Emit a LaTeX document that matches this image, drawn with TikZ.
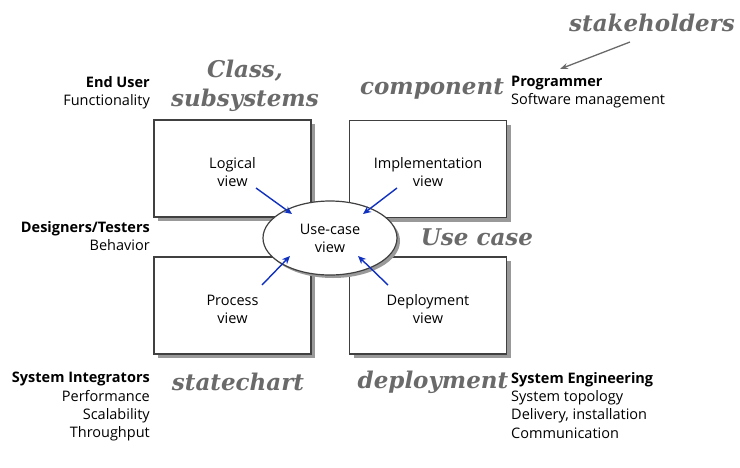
\documentclass[tikz,border=0pt]{standalone}
\usepackage{fontspec}
\setmainfont{Open Sans}
\newfontfamily\serlab{DejaVu Serif}
\usetikzlibrary{shapes.geometric,shadows,arrows.meta}
\definecolor{labgray}{HTML}{6A6A6A}
\definecolor{arrblue}{HTML}{1030C0}
\definecolor{boxline}{HTML}{404040}
\tikzset{
  viewbox/.style={draw=boxline, line width=1.2pt, fill=white, minimum width=157pt, minimum height=97pt, inner sep=0pt,
    drop shadow={shadow xshift=4pt, shadow yshift=-4pt, fill=black!40, opacity=1}},
  boxtext/.style={align=center, font=\fontsize{14.5}{18}\selectfont, inner sep=0pt},
  usecase/.style={ellipse, draw=boxline, line width=1.2pt, fill=white, minimum width=134pt, minimum height=74pt, inner sep=0pt,
    align=center, font=\fontsize{14.5}{18}\selectfont,
    drop shadow={shadow xshift=3pt, shadow yshift=-3pt, fill=black!40, opacity=1}},
  rolel/.style={align=right, anchor=north east, font=\fontsize{14.5}{18.3}\selectfont, inner sep=0pt},
  roler/.style={align=left, anchor=north west, font=\fontsize{14.5}{18.3}\selectfont, inner sep=0pt},
  slab/.style={text=labgray, font=\serlab\bfseries\itshape\fontsize{23}{29}\selectfont, inner sep=0pt, align=center},
  bluearrow/.style={draw=arrblue, line width=1.4pt, -{Stealth[length=8pt,width=7pt]}},
  grayarrow/.style={draw=labgray, line width=1.3pt, -{Stealth[length=8pt,width=6pt]}}
}
\begin{document}
\begin{tikzpicture}[x=1pt,y=-1pt]
\useasboundingbox (0,0) rectangle (740,467);
% boxes
\node[viewbox] (logical) at (232.5,168.5) {};
\node[viewbox] (impl) at (428,169) {};
\node[viewbox] (process) at (232.5,305.5) {};
\node[viewbox] (deploy) at (428,305.5) {};
\node[boxtext] (logicalt) at (232.5,172) {Logical\\view};
\node[boxtext] (implt) at (428,172) {Implementation\\view};
\node[boxtext] (processt) at (232.5,309) {Process\\view};
\node[boxtext] (deployt) at (428,309) {Deployment\\view};
% use case ellipse
\node[usecase] (uc) at (330,238) {Use-case\\view};
% arrows
\coordinate (a1) at (256,188); \coordinate (e1) at (292,214);
\coordinate (a2) at (397,188); \coordinate (e2) at (363,214);
\coordinate (a3) at (262,285); \coordinate (e3) at (290,256);
\coordinate (a4) at (388,285); \coordinate (e4) at (358,256);
\draw[bluearrow] (a1) -- (e1);
\draw[bluearrow] (a2) -- (e2);
\draw[bluearrow] (a3) -- (e3);
\draw[bluearrow] (a4) -- (e4);
% stakeholder roles
\node[rolel] (enduser) at (150,76) {\textbf{End User}\\Functionality};
\node[rolel] (designers) at (150,221) {\textbf{Designers/Testers}\\Behavior};
\node[rolel] (integrators) at (150,372) {\textbf{System Integrators}\\Performance\\Scalability\\Throughput};
\node[roler] (programmer) at (511,76) {\textbf{Programmer}\\Software management};
\node[roler] (syseng) at (511,372) {\textbf{System Engineering}\\System topology\\Delivery, installation\\Communication};
% annotations
\node[slab] (classl) at (245,86) {Class,\\subsystems};
\node[slab] (compl) at (432,89) {component};
\node[slab] (stakel) at (652,23) {stakeholders};
\node[slab] (usecasel) at (477,237) {Use case};
\node[slab] (statel) at (238,382) {statechart};
\node[slab] (deplol) at (433,382) {deployment};
\coordinate (sa) at (630,42);
\coordinate (sb) at (560,69);
\draw[grayarrow] (sa) -- (sb);
\end{tikzpicture}
\end{document}
